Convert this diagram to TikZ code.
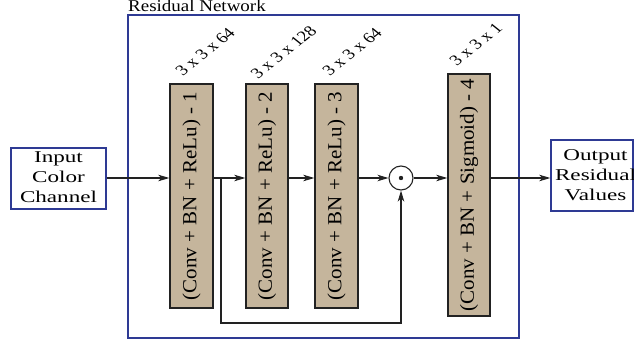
\documentclass[tikz,border=0pt]{standalone}
\usepackage{fontspec}
\setmainfont{Liberation Serif}
\usetikzlibrary{arrows.meta}
\definecolor{netblue}{HTML}{2E3A94}
\definecolor{tanfill}{HTML}{C5B59C}
\definecolor{ink}{HTML}{222222}
\newcommand\htext[1]{\scalebox{1.4}[1]{\fontsize{16.5}{20}\selectfont\begin{tabular}{@{}c@{}}#1\end{tabular}}}
\newcommand\vtext[1]{\rotatebox{90}{\scalebox{1.05}[1]{\fontsize{20}{24}\selectfont #1}}}
\newcommand\dtext[1]{\scalebox{1.25}[1]{\rotatebox{45}{\fontsize{15}{18}\selectfont #1}}}
\begin{document}
\begin{tikzpicture}[x=1pt,y=-1pt,
  bluebox/.style={draw=netblue, line width=1.4pt, inner sep=0pt},
  layer/.style={draw=ink, fill=tanfill, line width=1.4pt, inner sep=0pt},
  arr/.style={draw=ink, line width=1.1pt, -{Stealth[length=11pt,width=6.5pt,inset=3pt]}},
  dimlabel/.style={inner sep=0pt, anchor=south west}]
\clip (0,0) rectangle (634,342);
\useasboundingbox (0,0) rectangle (634,342);

% residual network frame
\node[bluebox, minimum width=391pt, minimum height=323pt] (net) at (323.5,176.5) {};
\node[inner sep=0pt, anchor=base west] (title) at (128,12) {\scalebox{1.15}[1]{\fontsize{16.5}{18}\selectfont Residual Network}};

% input / output
\node[bluebox, minimum width=95pt, minimum height=61pt] (in) at (58.5,178.5) {\htext{Input\\Color\\Channel}};
\node[bluebox, minimum width=82pt, minimum height=71pt] (out) at (592,175.5) {};
\begin{scope}
  \clip (out.south west) rectangle (out.north east);
  \node[inner sep=0pt] (outtext) at (595.5,176) {\htext{Output\\Residual\\Values}};
\end{scope}

% layers
\node[layer, minimum width=43pt, minimum height=224pt] (b1) at (191.5,196) {\vtext{(Conv + BN + ReLu) - 1}};
\node[layer, minimum width=42pt, minimum height=224pt] (b2) at (267,196) {\vtext{(Conv + BN + ReLu) - 2}};
\node[layer, minimum width=43pt, minimum height=224pt] (b3) at (336.5,196) {\vtext{(Conv + BN + ReLu) - 3}};
\node[layer, minimum width=42pt, minimum height=242pt] (b4) at (469,195) {\vtext{(Conv + BN + Sigmoid) - 4}};

% dimension labels
\node[dimlabel] (l1) at (174,77) {\dtext{3 x 3 x 64}};
\node[dimlabel] (l2) at (249,80) {\dtext{3 x 3 x 128}};
\node[dimlabel] (l3) at (321,77) {\dtext{3 x 3 x 64}};
\node[dimlabel] (l4) at (448,67) {\dtext{3 x 3 x 1}};

% element-wise product
\node[circle, draw=ink, line width=1.1pt, minimum size=24pt, inner sep=0pt] (dot) at (401,178) {};
\fill[ink] (dot.center) circle (2.2pt);

% connectors
\coordinate (ml) at (0,178);
\coordinate (sk) at (221,178);
\coordinate (skb) at (221,323);
\draw[arr] (in.east |- ml) -- (b1.west |- ml);
\draw[arr] (b1.east |- ml) -- (b2.west |- ml);
\draw[arr] (b2.east |- ml) -- (b3.west |- ml);
\draw[arr] (b3.east |- ml) -- (dot.west);
\draw[arr] (dot.east) -- (b4.west |- ml);
\draw[arr] (b4.east |- ml) -- (out.west |- ml);
\draw[arr] (sk) -- (skb) -| (dot.south);
\end{tikzpicture}
\end{document}
